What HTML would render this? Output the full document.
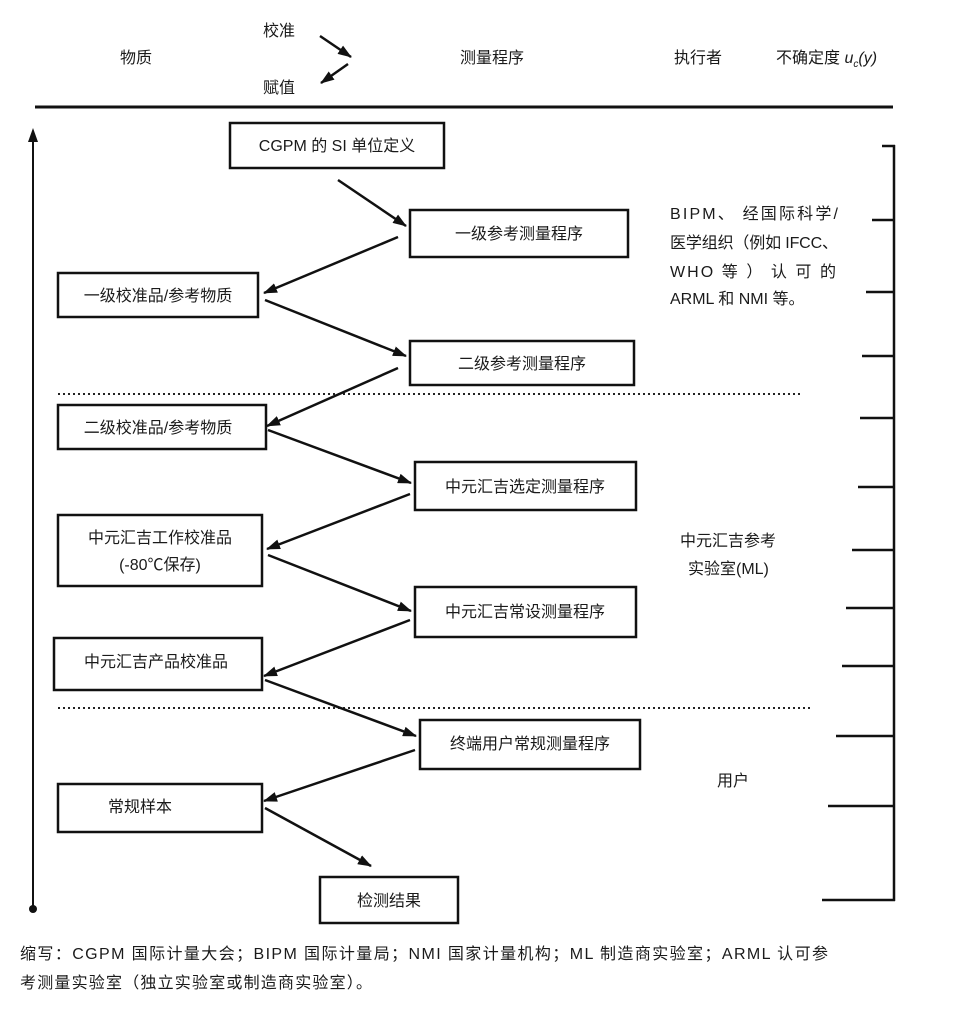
<!DOCTYPE html>
<html><head><meta charset="utf-8"><style>
body{margin:0;background:#fff}
svg{display:block}
text{font-family:"Liberation Sans","Noto Sans CJK SC",sans-serif;font-size:16px;fill:#1a1a1a}
.b{fill:#fff;stroke:#111;stroke-width:2.5}
.a{stroke:#111;stroke-width:2.5;marker-end:url(#ah)}
.t{stroke:#111;stroke-width:2.5}
</style></head><body>
<svg width="969" height="1024" viewBox="0 0 969 1024" xmlns="http://www.w3.org/2000/svg">
<defs><marker id="ah" markerWidth="14" markerHeight="10" refX="13" refY="5" orient="auto" markerUnits="userSpaceOnUse"><path d="M0,0 L14,5 L0,10 z" fill="#111"/></marker></defs>
<text x="120" y="63" font-size="17">物质</text>
<text x="263" y="36" font-size="17">校准</text>
<text x="263" y="93" font-size="17">赋值</text>
<line class="a" x1="320" y1="36" x2="351" y2="57"/>
<line class="a" x1="348" y1="64" x2="321" y2="83"/>
<text x="460" y="63" font-size="17">测量程序</text>
<text x="674" y="63" font-size="17">执行者</text>
<text x="776" y="63" font-size="17">不确定度 <tspan font-style="italic">u</tspan><tspan font-style="italic" font-size="10" dy="4">c</tspan><tspan font-style="italic" dy="-4">(y)</tspan></text>
<line x1="35" y1="107" x2="893" y2="107" stroke="#111" stroke-width="3"/>
<line x1="33" y1="908" x2="33" y2="140" stroke="#111" stroke-width="2"/>
<path d="M28,142 L33,128 L38,142 z" fill="#111"/>
<circle cx="33" cy="909" r="4" fill="#111"/>
<line x1="58" y1="394" x2="800" y2="394" stroke="#222" stroke-width="2" stroke-dasharray="2,3"/>
<line x1="58" y1="708" x2="812" y2="708" stroke="#222" stroke-width="2" stroke-dasharray="2,3"/>
<rect class="b" x="230" y="123" width="214" height="45"/><text x="337" y="151" text-anchor="middle">CGPM 的 SI 单位定义</text>
<rect class="b" x="410" y="210" width="218" height="47"/><text x="519" y="239" text-anchor="middle">一级参考测量程序</text>
<rect class="b" x="58" y="273" width="200" height="44"/><text x="158" y="301" text-anchor="middle">一级校准品/参考物质</text>
<rect class="b" x="410" y="341" width="224" height="44"/><text x="522" y="369" text-anchor="middle">二级参考测量程序</text>
<rect class="b" x="58" y="405" width="208" height="44"/><text x="158" y="433" text-anchor="middle">二级校准品/参考物质</text>
<rect class="b" x="415" y="462" width="221" height="48"/><text x="525" y="492" text-anchor="middle">中元汇吉选定测量程序</text>
<rect class="b" x="58" y="515" width="204" height="71"/><text x="160" y="543" text-anchor="middle">中元汇吉工作校准品</text><text x="160" y="570" text-anchor="middle">(-80℃保存)</text>
<rect class="b" x="415" y="587" width="221" height="50"/><text x="525" y="617" text-anchor="middle">中元汇吉常设测量程序</text>
<rect class="b" x="54" y="638" width="208" height="52"/><text x="156" y="667" text-anchor="middle">中元汇吉产品校准品</text>
<rect class="b" x="420" y="720" width="220" height="49"/><text x="530" y="749" text-anchor="middle">终端用户常规测量程序</text>
<rect class="b" x="58" y="784" width="204" height="48"/><text x="140" y="812" text-anchor="middle">常规样本</text>
<rect class="b" x="320" y="877" width="138" height="46"/><text x="389" y="906" text-anchor="middle">检测结果</text>
<line class="a" x1="338" y1="180" x2="406" y2="226"/>
<line class="a" x1="398" y1="237" x2="264" y2="293"/>
<line class="a" x1="265" y1="300" x2="406" y2="356"/>
<line class="a" x1="398" y1="368" x2="267" y2="426"/>
<line class="a" x1="268" y1="430" x2="411" y2="483"/>
<line class="a" x1="410" y1="494" x2="267" y2="549"/>
<line class="a" x1="268" y1="555" x2="411" y2="611"/>
<line class="a" x1="410" y1="620" x2="264" y2="676"/>
<line class="a" x1="265" y1="680" x2="416" y2="736"/>
<line class="a" x1="415" y1="750" x2="264" y2="801"/>
<line class="a" x1="265" y1="808" x2="371" y2="866"/>
<text x="670" y="219" font-size="15" textLength="168">BIPM、  经国际科学/</text>
<text x="670" y="248" font-size="15" textLength="168">医学组织（例如 IFCC、</text>
<text x="670" y="277" font-size="15" textLength="166">WHO  等 ） 认 可 的</text>
<text x="670" y="304" font-size="15">ARML 和 NMI 等。</text>
<text x="680" y="546" font-size="15">中元汇吉参考</text>
<text x="688" y="574" font-size="15">实验室(ML)</text>
<text x="717" y="786" font-size="15">用户</text>
<line class="t" x1="894" y1="145" x2="894" y2="901"/>
<line class="t" x1="882" y1="146" x2="895" y2="146"/>
<line class="t" x1="872" y1="220" x2="894" y2="220"/>
<line class="t" x1="866" y1="292" x2="894" y2="292"/>
<line class="t" x1="862" y1="356" x2="894" y2="356"/>
<line class="t" x1="860" y1="418" x2="894" y2="418"/>
<line class="t" x1="858" y1="487" x2="894" y2="487"/>
<line class="t" x1="852" y1="550" x2="894" y2="550"/>
<line class="t" x1="846" y1="608" x2="894" y2="608"/>
<line class="t" x1="842" y1="666" x2="894" y2="666"/>
<line class="t" x1="836" y1="736" x2="894" y2="736"/>
<line class="t" x1="828" y1="806" x2="894" y2="806"/>
<line class="t" x1="822" y1="900" x2="895" y2="900"/>
<text x="20" y="959" font-size="15" textLength="808">缩写：CGPM  国际计量大会；BIPM  国际计量局；NMI  国家计量机构；ML  制造商实验室；ARML 认可参</text>
<text x="20" y="988" font-size="15" textLength="352">考测量实验室（独立实验室或制造商实验室）。</text>
</svg>
</body></html>
